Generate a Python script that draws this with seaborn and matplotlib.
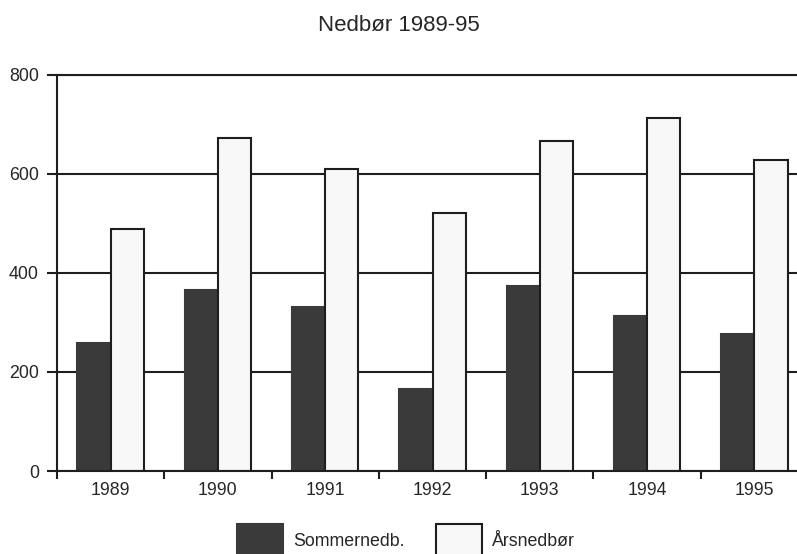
import numpy as np
import pandas as pd
import matplotlib
matplotlib.use("Agg")
import matplotlib.pyplot as plt
from matplotlib.ticker import FixedLocator
import seaborn as sns

# Precipitation (mm) per year
years = ["1989", "1990", "1991", "1992", "1993", "1994", "1995"]
sommer = [259, 365, 331, 165, 373, 314, 277]
aars = [488, 672, 611, 521, 667, 714, 628]
series = ["Sommernedb.", "Årsnedbør"]
yticks = [0, 200, 400, 600, 800]

df = pd.DataFrame({
    "År": years * 2,
    "Nedbør": sommer + aars,
    "Serie": [series[0]] * len(years) + [series[1]] * len(years),
})

sns.set_theme(style="white")
plt.rcParams["font.family"] = ["Liberation Sans", "DejaVu Sans"]

ink = "#1e1e1e"
text_col = "#262626"
dark = "#3a3a3a"
light = "#f8f8f8"

fig = plt.figure(figsize=(7.97, 5.54), dpi=100)
fig.patch.set_facecolor("white")
ax = fig.add_axes([57 / 797, 1 - 471 / 554, 751 / 797, 396 / 554])

sns.barplot(data=df, x="År", y="Nedbør", hue="Serie", hue_order=series,
            palette=[dark, light], width=0.62, saturation=1,
            edgecolor=ink, linewidth=1.5, legend=False, ax=ax)

# summer bars have no visible outline
for p in ax.containers[0]:
    p.set_edgecolor(dark)

ax.set_xlim(-0.5, len(years) - 0.5)
ax.set_ylim(0, 800)
ax.set_yticks(yticks)
ax.set_xlabel("")
ax.set_ylabel("")

ax.set_axisbelow(True)
ax.yaxis.grid(True, color=ink, linewidth=1.5)
ax.xaxis.grid(False)

for side in ["left", "bottom", "top"]:
    ax.spines[side].set_visible(True)
    ax.spines[side].set_color(ink)
    ax.spines[side].set_linewidth(1.5)
ax.spines["right"].set_visible(False)

ax.xaxis.set_minor_locator(FixedLocator(np.arange(-0.5, len(years), 1.0)))
ax.tick_params(axis="x", which="major", length=0, pad=8,
               labelsize=12.8, labelcolor=text_col)
ax.tick_params(axis="x", which="minor", bottom=True, length=6, width=1.5,
               color=ink, direction="out")
ax.tick_params(axis="y", left=True, length=7, width=1.5, color=ink,
               direction="out", pad=6, labelsize=12.8, labelcolor=text_col)

fig.text(399 / 797, 1 - 30.7 / 554, "Nedbør 1989-95", ha="center",
         va="baseline", fontsize=16, color=text_col)

fig.legend(handles=list(ax.containers), labels=series, loc="center",
           bbox_to_anchor=(406 / 797, 1 - 540.5 / 554), ncol=2,
           frameon=False, fontsize=12.8, labelcolor=text_col,
           handlelength=2.55, handleheight=2.5, handletextpad=0.56,
           columnspacing=1.8, borderaxespad=0, borderpad=0)

fig.savefig("out.png", dpi=100)
